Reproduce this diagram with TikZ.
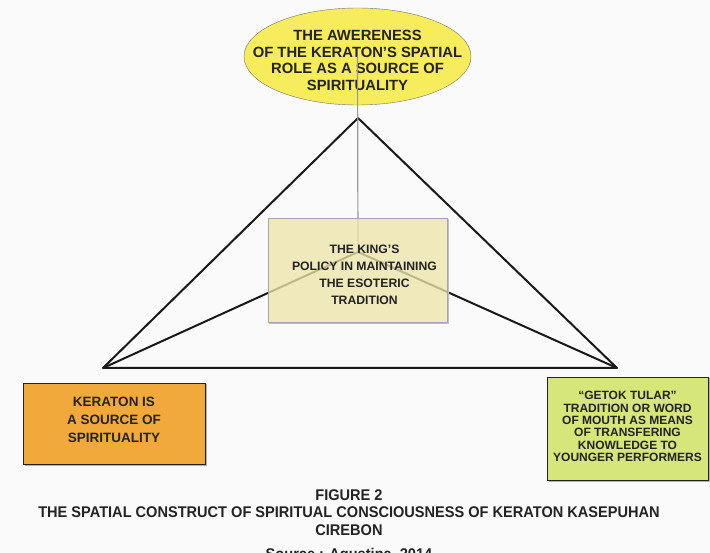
\documentclass[tikz,border=0pt]{standalone}
\usepackage{fontspec}
\setmainfont{Liberation Sans}
\newfontfamily\narrowSans[FakeStretch=0.94]{Liberation Sans}
\usetikzlibrary{positioning, shapes.geometric, shadows}
\definecolor{ovalYellow}{RGB}{246, 236, 92}
\definecolor{kingBeige}{RGB}{236, 229, 170}
\definecolor{keratonOrange}{RGB}{242, 169, 60}
\definecolor{getokGreen}{RGB}{214, 230, 122}
\definecolor{inkGray}{RGB}{35, 35, 35}
\newcommand{\kingpad}{\hspace*{14pt}}

\begin{document}
\begin{tikzpicture}[
    x=1pt, y=-1pt,
    concept/.style={rectangle, draw=inkGray, thick, align=center, text=inkGray,
                    inner sep=0pt, font=\bfseries\fontsize{13.5}{18}\selectfont},
    shadowed/.style={drop shadow={shadow xshift=1.5pt, shadow yshift=-1.5pt, fill=black!60}},
    caption/.style={align=center, text=inkGray, inner sep=0pt,
                    font=\narrowSans\bfseries\fontsize{15.5}{17.5}\selectfont},
    edge/.style={draw=black!90, line width=2pt, line join=round},
  ]
    \fill[black!2] (0,0) rectangle (710,553);
    \clip (0,0) rectangle (710,553);
    \useasboundingbox (0,0) rectangle (710,553);

    % triangle corners and the inner meeting point
    \coordinate (APEX) at (358,118);
    \coordinate (LEFT) at (103,368);
    \coordinate (RIGHT) at (617,368);
    \coordinate (MID) at (358,252);

    % the oval is drawn on its own, so that its size does not follow the text
    \draw[black!55, fill=ovalYellow] (357.5,56.5) ellipse [x radius=113.5, y radius=48.5];
    \node[align=center, text=inkGray, inner sep=0pt,
          font=\bfseries\fontsize{14.8}{16.7}\selectfont] (AWARE) at (357.5,56.5)
      {\rule{0pt}{18.4pt}THE AWERENESS\\OF THE KERATON'S SPATIAL\\ROLE AS A SOURCE OF\\SPIRITUALITY};

    \draw[edge] (APEX) -- (LEFT) -- (RIGHT) -- cycle;
    \draw[edge] (LEFT) -- (MID) -- (RIGHT);
    \draw[black!40, line width=1.2pt] (AWARE.center) -- (MID);

    \draw[black!25, line width=1.2pt] (269,323) -- (448.5,323) -- (448.5,219);
    \node[concept, draw=black!35, fill=kingBeige, fill opacity=0.78, text opacity=1,
          minimum width=179pt, minimum height=104pt,
          font=\bfseries\fontsize{12.2}{16.9}\selectfont] (KING) at (357.5,270)
      {\kingpad\rule{0pt}{17.7pt}THE KING'S\\\kingpad POLICY IN MAINTAINING\\\kingpad THE ESOTERIC\\\kingpad TRADITION};

    \node[concept, shadowed, fill=keratonOrange, minimum width=182pt, minimum height=81pt] (KERATON) at (114,423.5)
      {KERATON IS\\A SOURCE OF\\SPIRITUALITY\rule[-8pt]{0pt}{8pt}};

    \node[concept, shadowed, fill=getokGreen, minimum width=161pt, minimum height=103pt,
          font=\bfseries\fontsize{12}{12.4}\selectfont] (GETOK) at (627.5,428.5)
      {``GETOK TULAR''\\TRADITION OR WORD\\OF MOUTH AS MEANS\\OF TRANSFERING\\KNOWLEDGE TO\\YOUNGER PERFORMERS\rule[-4pt]{0pt}{4pt}};

    \node[caption] (FIG) at (349,495.5) {FIGURE 2};
    \node[caption] (TITLE) at (349,521.25)
      {THE SPATIAL CONSTRUCT OF SPIRITUAL CONSCIOUSNESS OF KERATON KASEPUHAN\\CIREBON};
    \node[caption, anchor=base] (SRC) at (349,559) {Source : Agustina, 2014};
  \end{tikzpicture}
\end{document}
